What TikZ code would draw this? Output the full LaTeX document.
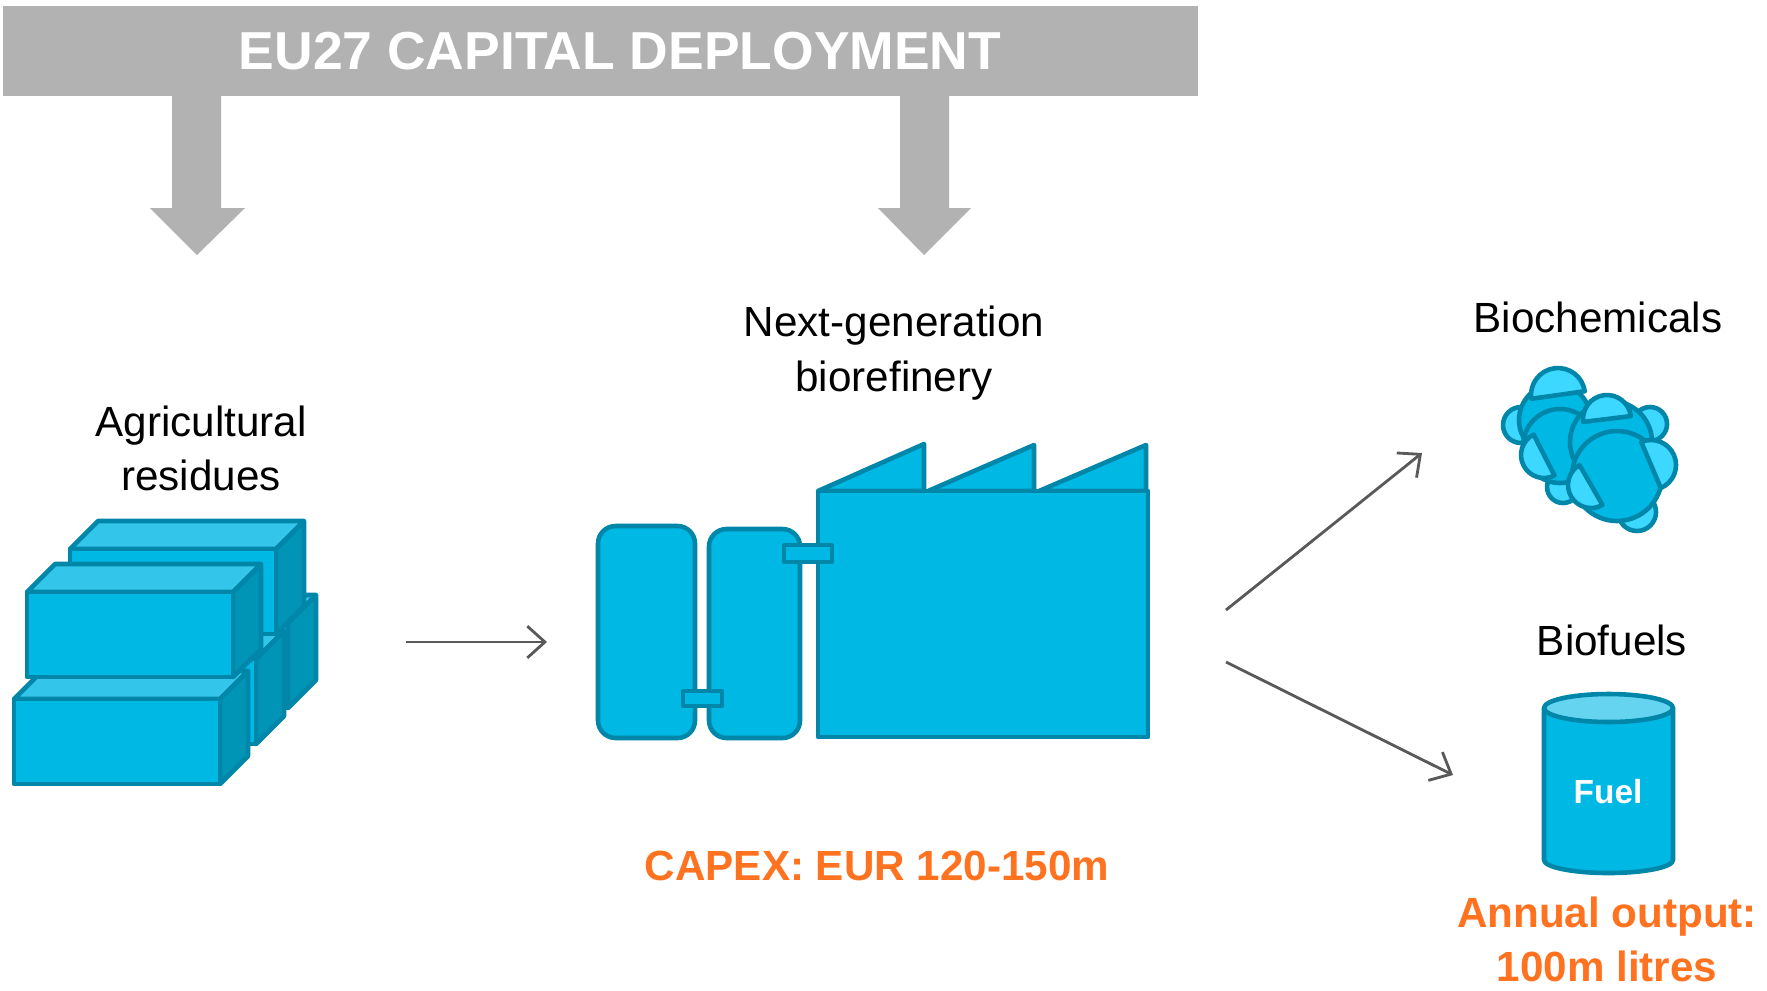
\documentclass[tikz,border=0pt]{standalone}
\usepackage{fontspec}
\setmainfont{Liberation Sans}
\usetikzlibrary{arrows.meta}

\definecolor{bannergray}{RGB}{178,178,178}
\definecolor{plantfill}{RGB}{0,184,228}
\definecolor{plantline}{RGB}{0,134,168}
\definecolor{baletop}{RGB}{51,198,234}
\definecolor{baleside}{RGB}{0,148,182}
\definecolor{capfill}{RGB}{60,216,255}
\definecolor{tanktop}{RGB}{100,212,240}
\definecolor{costorange}{RGB}{255,114,32}
\definecolor{flowgray}{RGB}{89,89,89}

\tikzset{
	bluefill/.style={draw=plantline, line width=1.3pt, line join=round, fill=plantfill},
	flowarrow/.style={draw=flowgray, line width=0.8pt, -{Straight Barb[length=5pt,width=9pt]}},
	itemtext/.style={font=\fontsize{12}{15.4}\selectfont, align=center},
	costtext/.style={font=\fontsize{12}{15.4}\selectfont\bfseries, text=costorange, align=center},
}

% one straw bale, front top left corner at (#1,#2)
\def\bale(#1,#2){
	\draw[bluefill, fill=baletop] (#1,#2) -- ++(28,-28) -- ++(206,0) -- ++(-28,28) -- cycle;
	\draw[bluefill, fill=baleside] (#1+206,#2) -- ++(28,-28) -- ++(0,85) -- ++(-28,28) -- cycle;
	\draw[bluefill] (#1,#2) rectangle ++(206,85);
}
% small atom in front of a big one, cut flat through its centre
\def\molcap(#1,#2)[#3:#4]{\draw[bluefill, fill=capfill] (#1,#2) ++({#3-90}:#4) arc[start angle={#3-90}, delta angle=180, radius=#4] -- cycle;}

\begin{document}
\begin{tikzpicture}[x=0.01cm, y=-0.01cm]
			%%%%% START %%%%%
			\useasboundingbox (0,0) rectangle (1767,990);
			
			% banner with the two block arrows
			\fill[bannergray] (3,6) rectangle (1198,96);
			\node[font=\fontsize{15.2}{18}\selectfont\bfseries, text=white] (banner) at (620,51) {EU27 CAPITAL DEPLOYMENT};
			\fill[bannergray] (172,96) -- (172,208) -- (150,208) -- (197,255) -- (245,208) -- (221,208) -- (221,96) -- cycle;
			\fill[bannergray] (900,96) -- (900,208) -- (878,208) -- (924,255) -- (971,208) -- (949,208) -- (949,96) -- cycle;
			
			% bales
			\bale(82,623)
			\bale(50,659)
			\bale(70,549)
			\bale(14,699)
			\bale(27,592)
			\node[itemtext] (residues) at (201,448) {Agricultural\\residues};
			
			% biorefinery
			\draw[bluefill, rounded corners=5pt] (598,526) rectangle (695,738);
			\draw[bluefill, rounded corners=5pt] (709,529) rectangle (800,738);
			\draw[bluefill] (818,491) -- (924,444) -- (924,491) -- cycle;
			\draw[bluefill] (928,491) -- (1034,445) -- (1034,491) -- cycle;
			\draw[bluefill] (1039,491) -- (1146,445) -- (1146,491) -- cycle;
			\draw[bluefill] (818,491) rectangle (1148,737);
			\draw[bluefill] (683,691) rectangle (722,706);
			\draw[bluefill] (784,545) rectangle (832,562);
			\node[itemtext] (refinery) at (894,353) {Next-generation\\biorefinery};
			\node[costtext] (capex) at (877,866) {CAPEX: EUR 120-150m};
			
			% biochemicals
			\draw[bluefill, fill=capfill] (1521,425) circle (18);
			\draw[bluefill, fill=capfill] (1563,487) circle (16);
			\draw[bluefill] (1555,420) circle (36);
			\draw[bluefill] (1560,446) circle (37);
			\molcap(1558,395)[-98:27]
			\molcap(1544,455)[153:23]
			\draw[bluefill, fill=capfill] (1650,424) circle (17);
			\draw[bluefill, fill=capfill] (1637,512) circle (19);
			\draw[bluefill] (1611,442) circle (41);
			\draw[bluefill] (1617,476) circle (45);
			\molcap(1607,419)[-97:24]
			\molcap(1651,465)[-23:25]
			\molcap(1591,485)[150:23]
			\node[itemtext] (chemicals) at (1598,317) {Biochemicals};
			
			% biofuels
			\draw[bluefill] (1544,708) -- (1544,860) arc[start angle=180, end angle=0, x radius=64.5, y radius=13] -- (1673,708) -- cycle;
			\draw[bluefill, fill=tanktop] (1608.5,708) ellipse[x radius=64.5, y radius=14];
			\node[font=\fontsize{9.5}{11}\selectfont\bfseries, text=white] (fuel) at (1608,792) {Fuel};
			\node[itemtext] (fuels) at (1612,640) {Biofuels};
			\node[costtext] (output) at (1607,939) {Annual output:\\100m litres};
			
			% flows
			\coordinate (bales out) at (406,642);
			\coordinate (plant in) at (547,642);
			\coordinate (plant up) at (1226,610);
			\coordinate (chem in) at (1422,453);
			\coordinate (plant down) at (1226,662);
			\coordinate (fuel in) at (1453,775);
			\draw[flowarrow] (bales out) -- (plant in);
			\draw[flowarrow] (plant up) -- (chem in);
			\draw[flowarrow] (plant down) -- (fuel in);
			%%%%% END %%%%%
\end{tikzpicture}
\end{document}
